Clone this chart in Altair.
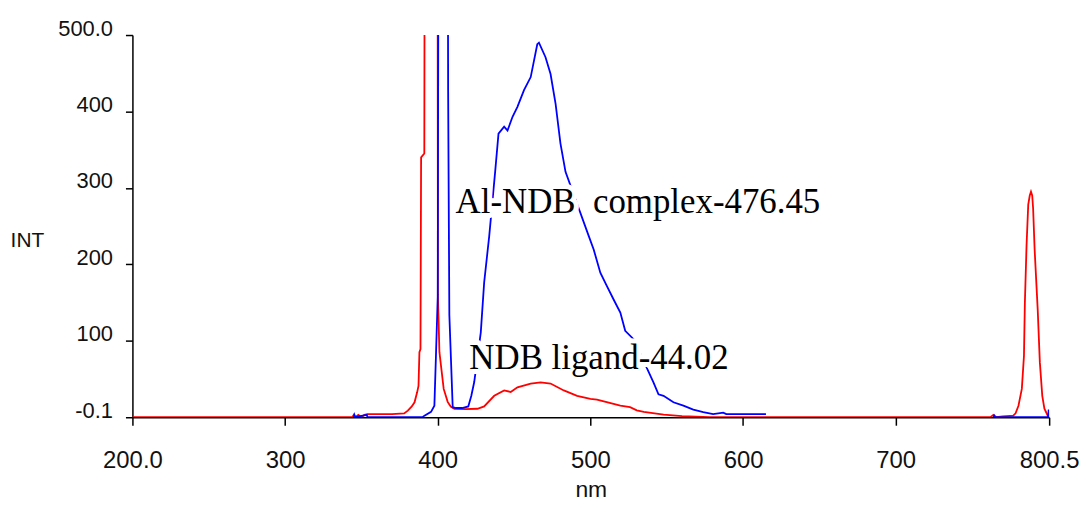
import altair as alt
import pandas as pd

# Ligand (NDB) spectrum - red
red_nm = [200, 344, 345, 346, 348, 350, 352, 354, 370, 378, 380.4, 383, 384.8, 386.5, 387.4,
          388, 388.7, 389.1, 391.2, 391.7, 399.8, 400.1, 401.1, 403.9, 406.5, 408.5, 410.9,
          418, 426, 430.4, 437, 443.5, 447.8, 452.2, 460.9, 467.4, 473.9, 482.6, 491.3, 500,
          504.3, 512, 519.6, 526, 530.4, 535, 548, 560, 578, 762, 764, 766, 770, 777, 778.5,
          780.4, 782.6, 784, 784.6, 785.7, 786.8, 787.8, 788.6, 789.4, 790, 791, 793, 794.4,
          796, 797.4, 799.6, 800.5]
red_int = [0, 0, 3, 0, 3, 0, 3, 4, 4, 5, 8.6, 14, 19.5, 32.5, 41,
           85, 89, 340, 345, 1000, 1000, 160, 85, 37, 20, 14, 11,
           10.5, 11, 14, 28, 35, 33, 39, 44, 45.6, 44, 35, 28, 24,
           23, 19, 15, 13, 9, 7, 3.4, 1.5, 0, 0, 3, 0, 1, 2, 5,
           15, 37, 80, 150, 225, 278, 290, 295, 290, 273, 219, 141, 72,
           28, 11, 2, 0]

# Al-NDB complex spectrum - blue (two recorded stretches)
blue_nm = [345, 345.4, 346, 353.5, 354, 390, 391.3, 395.6, 397.8, 398.9, 400, 400.8, 406.3,
           406.8, 407.6, 409.8, 412, 416, 420, 422, 423.9, 428.2, 430.4, 433.7, 437.6, 439.8,
           443.5, 445.7, 449, 452.2, 456.5, 460.9, 465.2, 466.3, 470.6, 473.9, 477.2, 480.4,
           483.7, 499, 502.2, 506.5, 510.9, 515.2, 519.6, 522.8, 528.3, 541.3, 544.6, 547.9,
           554.4, 560.9, 567.4, 573.9, 580.4, 587, 589, 615]
blue_int = [0, 3, 0, 3, 0, 0, 2, 7, 15, 85, 158, 1000, 1000,
            430, 134, 13, 12, 12, 14, 28, 46, 111, 176, 236.6, 321, 371,
            380, 375, 393, 406, 428, 445, 488, 490, 471, 449, 410, 358,
            321, 236.6, 219, 189, 171, 154, 137, 113, 102, 45.6, 30, 28,
            19.5, 15, 10, 6.5, 4, 6, 4, 4]
blue_tail_nm = [764, 764.5, 765, 799.8, 800.2, 800.5]
blue_tail_int = [0, 2, 0, 0, 10, 0]

x_ticks = [200, 300, 400, 500, 600, 700, 800.5]
y_ticks = [-0.1, 100, 200, 300, 400, 500]

label_text = ["Al-NDB\u00a0 complex-476.45", "NDB ligand-44.02"]
label_nm = [411.7, 420.7]
label_int = [267.3, 62.9]

red_df = pd.DataFrame({"nm": red_nm, "INT": red_int, "seg": "red"})
blue_df = pd.concat([
    pd.DataFrame({"nm": blue_nm, "INT": blue_int, "seg": "blue1"}),
    pd.DataFrame({"nm": blue_tail_nm, "INT": blue_tail_int, "seg": "blue2"}),
])
lab_df = pd.DataFrame({"nm": label_nm, "INT": label_int, "text": label_text})

x_enc = alt.X(
    "nm:Q",
    scale=alt.Scale(domain=[200, 800.5], nice=False, zero=False),
    axis=alt.Axis(
        values=x_ticks, title="nm", grid=False, labelFlush=False,
        labelExpr="datum.value == 200 ? '200.0' : datum.value > 800 ? '800.5' : format(datum.value, 'd')",
        labelFont="Liberation Sans", labelFontSize=24, labelColor="#111",
        labelBaseline="top", labelPadding=23, tickSize=8, tickWidth=1.5,
        tickColor="#000", domainColor="#000", domainWidth=1.5,
        titleFont="Liberation Sans", titleFontSize=23, titleFontWeight="normal",
        titleColor="#111", titleBaseline="alphabetic", titleY=80,
    ),
)
y_enc = alt.Y(
    "INT:Q",
    scale=alt.Scale(domain=[-0.1, 500], nice=False, zero=False),
    axis=alt.Axis(
        values=y_ticks, title="INT", grid=False,
        labelExpr="datum.value < 0 ? '-0.1' : datum.value == 500 ? '500.0' : format(datum.value, 'd')",
        labelFont="Liberation Sans", labelFontSize=22, labelColor="#111",
        labelBaseline="alphabetic", labelPadding=13, tickSize=7, tickWidth=1.5,
        tickColor="#000", domainColor="#000", domainWidth=1.5, labelFlush=False,
        titleFont="Liberation Sans", titleFontSize=21, titleFontWeight="normal",
        titleColor="#111", titleAngle=0, titleAlign="center", titleBaseline="middle",
        titleX=-106, titleY=206,
    ),
)

red = alt.Chart(red_df).mark_line(color="#ff0000", strokeWidth=1.8, clip=True).encode(
    x=x_enc, y=y_enc, detail="seg:N"
)
blue = alt.Chart(blue_df).mark_line(color="#0000ff", strokeWidth=1.8, clip=True).encode(
    x=x_enc, y=y_enc, detail="seg:N"
)
halo = alt.Chart(lab_df).mark_text(
    font="Liberation Serif", fontSize=35, align="left", baseline="alphabetic",
    color="white", stroke="white", strokeWidth=10, strokeJoin="round"
).encode(x=x_enc, y=y_enc, text="text:N")
labels = alt.Chart(lab_df).mark_text(
    font="Liberation Serif", fontSize=35, align="left", baseline="alphabetic", color="#000"
).encode(x=x_enc, y=y_enc, text="text:N")

chart = alt.layer(red, blue, halo, labels).properties(
    width=921, height=384,
    autosize=alt.AutoSizeParams(type="none"),
    padding={"left": 125, "top": 26, "right": 32, "bottom": 86},
    background="white",
).configure_view(stroke=None)

chart.save("out.html", embed_options={"renderer": "svg", "actions": False})
